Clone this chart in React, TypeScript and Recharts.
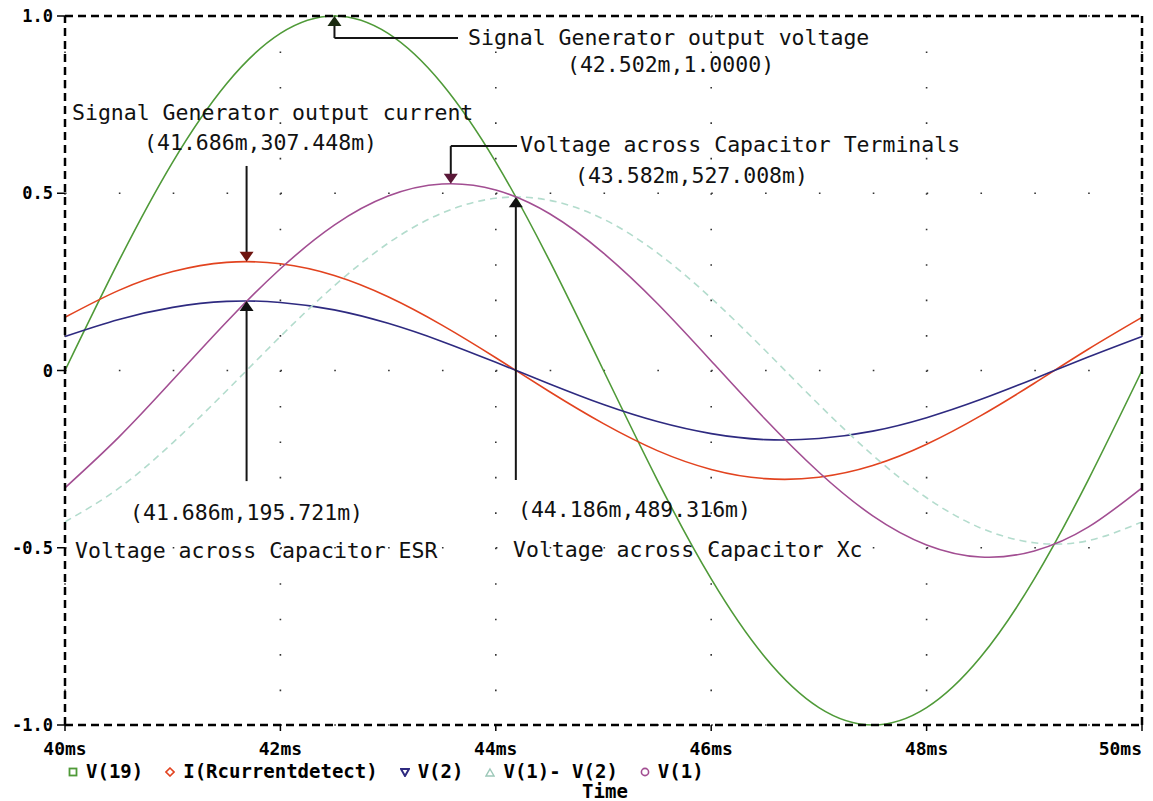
import React from "react";
import {
  LineChart,
  Line,
  XAxis,
  YAxis,
  CartesianGrid,
  ReferenceLine,
  ReferenceDot,
} from "recharts";

// time samples in ms
const times = [40, 40.5, 41, 41.5, 42, 42.5, 43, 43.5, 44, 44.5, 45, 45.5, 46, 46.5, 47, 47.5, 48, 48.5, 49, 49.5, 50];

const v19 = [0, 0.309, 0.588, 0.809, 0.951, 1, 0.951, 0.809, 0.588, 0.309, 0, -0.309, -0.588, -0.809, -0.951, -1, -0.951, -0.809, -0.588, -0.309, 0];
const iCurrent = [0.15, 0.226, 0.279, 0.305, 0.301, 0.268, 0.208, 0.128, 0.036, -0.06, -0.15, -0.226, -0.279, -0.305, -0.301, -0.268, -0.208, -0.128, -0.036, 0.06, 0.15];
const v2 = [0.096, 0.144, 0.178, 0.195, 0.192, 0.171, 0.133, 0.082, 0.023, -0.038, -0.096, -0.144, -0.178, -0.195, -0.192, -0.171, -0.133, -0.082, -0.023, 0.038, 0.096];
const v1MinusV2 = [-0.427, -0.332, -0.204, -0.057, 0.096, 0.239, 0.359, 0.444, 0.486, 0.48, 0.427, 0.332, 0.204, 0.057, -0.096, -0.239, -0.359, -0.444, -0.486, -0.48, -0.427];
const v1 = [-0.331, -0.188, -0.027, 0.137, 0.287, 0.41, 0.492, 0.526, 0.509, 0.442, 0.331, 0.189, 0.027, -0.137, -0.287, -0.41, -0.492, -0.526, -0.509, -0.442, -0.331];

const xTicks = [40, 42, 44, 46, 48, 50];
const xTickLabels = ["40ms", "42ms", "44ms", "46ms", "48ms", "50ms"];
const yTicks = [-1, -0.5, 0, 0.5, 1];
const yTickLabels = ["-1.0", "-0.5", "0", "0.5", "1.0"];

const series = [
  { key: "v19", name: "V(19)", color: "#4f9a38", marker: "square" },
  { key: "iCurrent", name: "I(Rcurrentdetect)", color: "#e2431f", marker: "diamond" },
  { key: "v2", name: "V(2)", color: "#2e2a80", marker: "down" },
  { key: "v1MinusV2", name: "V(1)- V(2)", color: "#b3dccd", marker: "up" },
  { key: "v1", name: "V(1)", color: "#a24e92", marker: "circle" },
];

const data = times.map((t, i) => ({
  t,
  v19: v19[i],
  iCurrent: iCurrent[i],
  v2: v2[i],
  v1MinusV2: v1MinusV2[i],
  v1: v1[i],
}));

// cursor annotations: text anchored in data coordinates
const notes = [
  { x: 43.742, y: 0.918, text: "Signal Generator output voltage" },
  { x: 44.661, y: 0.842, text: "(42.502m,1.0000)" },
  { x: 40.065, y: 0.707, text: "Signal Generator output current" },
  { x: 40.734, y: 0.622, text: "(41.686m,307.448m)" },
  { x: 44.225, y: 0.617, text: "Voltage across Capacitor Terminals" },
  { x: 44.735, y: 0.53, text: "(43.582m,527.008m)" },
  { x: 40.604, y: -0.422, text: "(41.686m,195.721m)" },
  { x: 40.093, y: -0.529, text: "Voltage across Capacitor ESR" },
  { x: 44.206, y: -0.413, text: "(44.186m,489.316m)" },
  { x: 44.16, y: -0.526, text: "Voltage across Capacitor Xc" },
];

const leaders = [
  [{ x: 42.502, y: 0.99 }, { x: 42.502, y: 0.938 }],
  [{ x: 42.502, y: 0.938 }, { x: 43.649, y: 0.938 }],
  [{ x: 41.686, y: 0.577 }, { x: 41.686, y: 0.32 }],
  [{ x: 41.686, y: -0.312 }, { x: 41.686, y: 0.185 }],
  [{ x: 43.582, y: 0.633 }, { x: 44.197, y: 0.633 }],
  [{ x: 43.582, y: 0.633 }, { x: 43.582, y: 0.54 }],
  [{ x: 44.186, y: -0.309 }, { x: 44.186, y: 0.478 }],
];

const arrowHeads = [
  { x: 42.502, y: 1.0, dir: "up", color: "#1a2a10" },
  { x: 41.686, y: 0.307, dir: "down", color: "#6e1410" },
  { x: 41.686, y: 0.196, dir: "up", color: "#111" },
  { x: 43.582, y: 0.527, dir: "down", color: "#5a1838" },
  { x: 44.186, y: 0.489, dir: "up", color: "#111" },
];

const monoFont = "'DejaVu Sans Mono', monospace";

function XTick(props: any) {
  const { x, y, payload, index } = props;
  const label = xTickLabels[xTicks.indexOf(payload.value)];
  const anchor = index === xTicks.length - 1 ? "end" : "middle";
  return (
    <text x={x} y={y + 16} textAnchor={anchor} fontFamily={monoFont} fontWeight="bold" fontSize={18} fill="#000">
      {label}
    </text>
  );
}

function YTick(props: any) {
  const { x, y, payload } = props;
  const label = yTickLabels[yTicks.indexOf(payload.value)];
  return (
    <text x={x} y={y + 6} textAnchor="end" fontFamily={monoFont} fontWeight="bold" fontSize={17} fill="#000">
      {label}
    </text>
  );
}

// dotted grid: dots every 0.5ms along rows, every 0.1 along columns
const gridRow = (p: any) => (
  <line key={p.key} x1={p.x1} y1={p.y1} x2={p.x2} y2={p.y2} stroke="#333" strokeWidth={1.6} strokeDasharray="1.6 52.25" />
);
const gridCol = (p: any) => (
  <line key={p.key} x1={p.x1} y1={p.y1} x2={p.x2} y2={p.y2} stroke="#333" strokeWidth={1.6} strokeDasharray="1.6 33.85" />
);

function Marker({ kind, color }: { kind: string; color: string }) {
  return (
    <svg width={10} height={10} style={{ marginRight: 8, verticalAlign: "middle" }}>
      {kind === "square" && <rect x={1.5} y={1.5} width={7} height={7} fill="none" stroke={color} strokeWidth={1.8} />}
      {kind === "diamond" && <polygon points="5,1 9,5 5,9 1,5" fill="none" stroke={color} strokeWidth={1.6} />}
      {kind === "down" && <polygon points="1,2 9,2 5,9" fill="none" stroke={color} strokeWidth={2} />}
      {kind === "up" && <polygon points="5,2 9,9 1,9" fill="none" stroke={color} strokeWidth={1.4} />}
      {kind === "circle" && <circle cx={5} cy={5} r={3.6} fill="none" stroke={color} strokeWidth={1.6} />}
    </svg>
  );
}

export default function App() {
  return (
    <div style={{ position: "relative", width: 1140, height: 793, background: "#fff" }}>
      <LineChart width={1140} height={790} data={data} margin={{ top: 8, right: 6, left: 0, bottom: 0 }}>
        <CartesianGrid horizontal={gridRow} vertical={gridCol} />
        <XAxis
          type="number"
          dataKey="t"
          domain={[40, 50]}
          ticks={xTicks}
          interval={0}
          height={73}
          axisLine={false}
          tickSize={6}
          tickMargin={8}
          tickLine={{ stroke: "#000", strokeWidth: 1.5 }}
          tick={<XTick />}
        />
        <YAxis
          type="number"
          domain={[-1, 1]}
          ticks={yTicks}
          interval={0}
          width={57}
          axisLine={false}
          tickSize={8}
          tickMargin={4}
          tickLine={{ stroke: "#000", strokeWidth: 1.5 }}
          tick={<YTick />}
        />
        {series.map((s) => (
          <Line
            key={s.key}
            type="natural"
            dataKey={s.key}
            name={s.name}
            stroke={s.color}
            strokeWidth={1.6}
            strokeDasharray={s.key === "v1MinusV2" ? "7 5" : undefined}
            dot={false}
            isAnimationActive={false}
          />
        ))}
        <ReferenceLine y={1} stroke="#000" strokeWidth={2.5} strokeDasharray="8 5" />
        <ReferenceLine y={-1} stroke="#000" strokeWidth={2.5} strokeDasharray="8 5" />
        <ReferenceLine x={40} stroke="#000" strokeWidth={2.5} strokeDasharray="8 5" />
        <ReferenceLine x={50} stroke="#000" strokeWidth={2.5} strokeDasharray="8 5" />
        {leaders.map((seg, i) => (
          <ReferenceLine key={`seg-${i}`} segment={seg} stroke="#151515" strokeWidth={2} ifOverflow="visible" />
        ))}
        {arrowHeads.map((a, i) => (
          <ReferenceDot
            key={`head-${i}`}
            x={a.x}
            y={a.y}
            r={0}
            ifOverflow="visible"
            shape={(p: any) => {
              const { cx, cy } = p;
              const pts =
                a.dir === "up"
                  ? `${cx},${cy} ${cx - 7},${cy + 10} ${cx + 7},${cy + 10}`
                  : `${cx},${cy} ${cx - 7},${cy - 10} ${cx + 7},${cy - 10}`;
              return <polygon points={pts} fill={a.color} />;
            }}
          />
        ))}
        {notes.map((n, i) => (
          <ReferenceDot
            key={`note-${i}`}
            x={n.x}
            y={n.y}
            r={0}
            ifOverflow="visible"
            shape={(p: any) => (
              <text x={p.cx} y={p.cy} fontFamily={monoFont} fontSize={21.5} fill="#111" style={{ whiteSpace: "pre" }}>
                {n.text}
              </text>
            )}
          />
        ))}
      </LineChart>
      <div
        style={{
          position: "absolute",
          left: 60,
          top: 754,
          display: "flex",
          alignItems: "center",
          fontFamily: monoFont,
          fontWeight: "bold",
          fontSize: 19,
          lineHeight: "19px",
          whiteSpace: "pre",
        }}
      >
        {series.map((s) => (
          <span key={s.key} style={{ display: "inline-flex", alignItems: "center", marginRight: 22 }}>
            <Marker kind={s.marker} color={s.key === "v1MinusV2" ? "#9cc8b8" : s.color} />
            {s.name}
          </span>
        ))}
      </div>
      <div
        style={{
          position: "absolute",
          left: 597,
          top: 774,
          transform: "translateX(-50%)",
          fontFamily: monoFont,
          fontWeight: "bold",
          fontSize: 19,
          lineHeight: "19px",
        }}
      >
        Time
      </div>
    </div>
  );
}
